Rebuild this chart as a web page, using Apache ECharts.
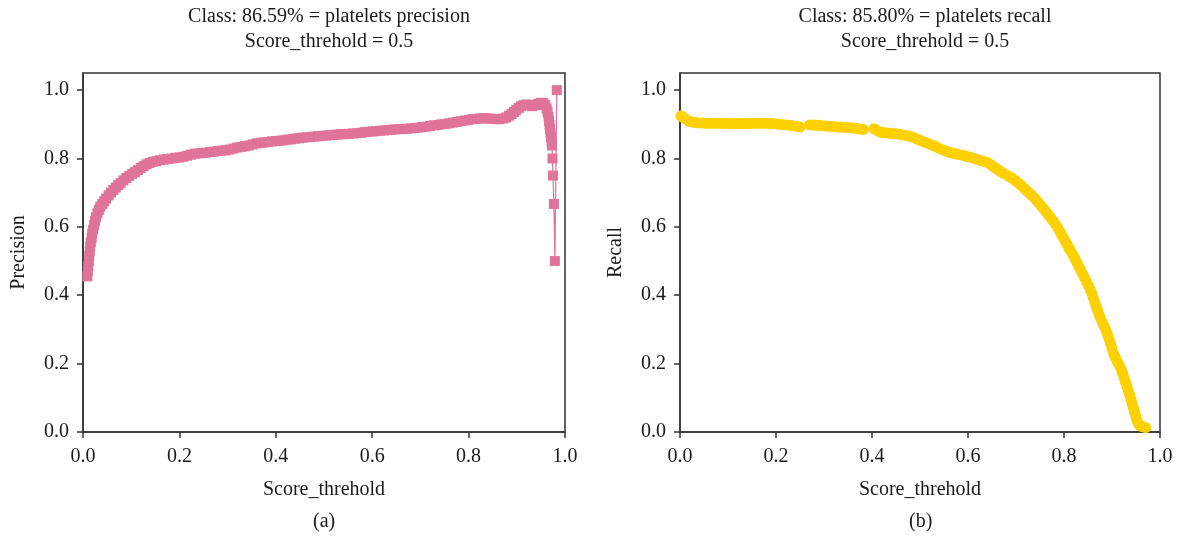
<!DOCTYPE html>
<html>
<head>
<meta charset="utf-8">
<script src="https://cdn.jsdelivr.net/npm/echarts@6/dist/echarts.min.js"></script>
<style>
html,body{margin:0;padding:0;background:#fff;}
#chart{width:1180px;height:537px;}
</style>
</head>
<body>
<div id="chart"></div>
<script>
// ---- Data ----
const precisionX = [0.009,0.010,0.011,0.012,0.013,0.014,0.015,0.016,0.018,0.019,0.021,0.023,0.025,0.027,0.030,0.033,0.036,0.040,0.044,0.048,0.053,0.058,0.063,0.068,0.073,0.078,0.084,0.090,0.096,0.102,0.108,0.114,0.120,0.126,0.132,0.138,0.145,0.152,0.160,0.168,0.176,0.184,0.192,0.200,0.208,0.216,0.224,0.232,0.240,0.248,0.256,0.264,0.272,0.280,0.288,0.296,0.304,0.312,0.320,0.328,0.336,0.344,0.352,0.360,0.368,0.376,0.384,0.392,0.400,0.408,0.416,0.424,0.432,0.440,0.448,0.456,0.464,0.472,0.480,0.488,0.496,0.504,0.512,0.520,0.528,0.536,0.544,0.552,0.560,0.568,0.576,0.584,0.592,0.600,0.608,0.616,0.624,0.632,0.640,0.648,0.656,0.664,0.672,0.680,0.688,0.696,0.704,0.712,0.720,0.728,0.736,0.744,0.752,0.760,0.768,0.776,0.784,0.792,0.800,0.808,0.816,0.824,0.832,0.840,0.848,0.856,0.864,0.872,0.878,0.884,0.889,0.894,0.899,0.904,0.909,0.914,0.920,0.926,0.932,0.938,0.944,0.950,0.955,0.959,0.962,0.964,0.966,0.967,0.968,0.969,0.970,0.971,0.972,0.973,0.974,0.975,0.977,0.979,0.983];
const precisionY = [0.455,0.470,0.485,0.500,0.515,0.530,0.543,0.555,0.568,0.580,0.592,0.605,0.617,0.628,0.640,0.650,0.659,0.667,0.675,0.683,0.692,0.700,0.708,0.715,0.722,0.728,0.736,0.743,0.749,0.755,0.760,0.766,0.772,0.778,0.783,0.787,0.790,0.792,0.795,0.797,0.798,0.800,0.802,0.803,0.805,0.808,0.811,0.814,0.815,0.816,0.817,0.819,0.820,0.822,0.823,0.824,0.826,0.829,0.832,0.834,0.836,0.838,0.841,0.844,0.846,0.847,0.848,0.850,0.851,0.852,0.853,0.855,0.856,0.858,0.859,0.861,0.862,0.863,0.864,0.865,0.866,0.867,0.868,0.869,0.870,0.871,0.871,0.872,0.873,0.874,0.875,0.877,0.878,0.879,0.880,0.881,0.882,0.883,0.884,0.885,0.886,0.886,0.887,0.888,0.889,0.890,0.892,0.893,0.895,0.897,0.898,0.900,0.901,0.903,0.905,0.907,0.909,0.911,0.913,0.915,0.916,0.917,0.918,0.917,0.916,0.915,0.915,0.917,0.920,0.925,0.930,0.936,0.942,0.948,0.953,0.956,0.958,0.956,0.953,0.956,0.960,0.963,0.962,0.956,0.946,0.935,0.922,0.910,0.898,0.886,0.874,0.862,0.850,0.838,0.800,0.750,0.667,0.500,1.000];

const recallX = [0.002,0.006,0.010,0.015,0.020,0.026,0.033,0.040,0.047,0.054,0.061,0.068,0.075,0.082,0.089,0.096,0.103,0.110,0.117,0.124,0.131,0.138,0.145,0.152,0.159,0.166,0.173,0.180,0.187,0.194,0.201,0.208,0.215,0.222,0.229,0.236,0.243,0.250,0.270,0.277,0.284,0.291,0.298,0.305,0.312,0.319,0.326,0.333,0.340,0.347,0.354,0.361,0.368,0.375,0.382,0.404,0.410,0.416,0.422,0.429,0.436,0.443,0.450,0.457,0.464,0.471,0.478,0.485,0.492,0.499,0.506,0.513,0.520,0.527,0.534,0.541,0.548,0.555,0.562,0.569,0.576,0.583,0.590,0.597,0.604,0.611,0.618,0.625,0.632,0.639,0.645,0.651,0.657,0.663,0.669,0.675,0.681,0.687,0.693,0.699,0.705,0.711,0.717,0.722,0.727,0.732,0.737,0.742,0.747,0.752,0.757,0.762,0.767,0.772,0.777,0.782,0.787,0.791,0.795,0.799,0.803,0.807,0.811,0.815,0.819,0.823,0.827,0.831,0.835,0.839,0.843,0.847,0.851,0.855,0.858,0.861,0.864,0.867,0.870,0.873,0.876,0.880,0.884,0.888,0.891,0.894,0.897,0.900,0.903,0.907,0.911,0.915,0.919,0.922,0.925,0.928,0.931,0.934,0.937,0.940,0.942,0.945,0.947,0.950,0.952,0.955,0.959,0.964,0.970];
const recallY = [0.924,0.921,0.917,0.912,0.908,0.906,0.905,0.904,0.904,0.903,0.903,0.903,0.903,0.903,0.903,0.903,0.902,0.902,0.902,0.902,0.902,0.902,0.902,0.903,0.903,0.903,0.903,0.903,0.902,0.902,0.901,0.900,0.899,0.898,0.897,0.896,0.894,0.892,0.898,0.898,0.897,0.897,0.896,0.895,0.894,0.893,0.892,0.892,0.891,0.891,0.890,0.889,0.888,0.886,0.885,0.887,0.882,0.878,0.876,0.875,0.874,0.873,0.872,0.871,0.869,0.867,0.865,0.862,0.858,0.854,0.850,0.846,0.842,0.838,0.834,0.829,0.825,0.821,0.818,0.815,0.813,0.811,0.809,0.806,0.804,0.801,0.798,0.795,0.792,0.789,0.784,0.778,0.772,0.767,0.761,0.756,0.751,0.746,0.741,0.735,0.728,0.721,0.713,0.706,0.700,0.693,0.686,0.678,0.670,0.662,0.654,0.645,0.636,0.627,0.618,0.608,0.597,0.587,0.577,0.567,0.557,0.547,0.537,0.527,0.517,0.506,0.495,0.484,0.473,0.462,0.451,0.439,0.428,0.416,0.405,0.392,0.380,0.368,0.356,0.344,0.333,0.320,0.308,0.296,0.284,0.271,0.257,0.244,0.230,0.218,0.206,0.195,0.184,0.172,0.159,0.146,0.133,0.120,0.107,0.094,0.082,0.069,0.057,0.045,0.033,0.024,0.018,0.015,0.013];

const xTicks = [0,0.2,0.4,0.6,0.8,1.0];
const yTicks = [0,0.2,0.4,0.6,0.8,1.0];
const titles = ['Class: 86.59% = platelets precision\nScore_threhold = 0.5','Class: 85.80% = platelets recall\nScore_threhold = 0.5'];
const yNames = ['Precision','Recall'];
const xName = 'Score_threhold';
const panelTags = ['(a)','(b)'];

// ---- Chart ----
const FONT = '"Liberation Serif", "DejaVu Serif", serif';
const TXT = '#1a1a1a';
const AX = '#333';
const FS = 20;
const grids = [
  {left:83, right:615, top:73, bottom:105},
  {left:680, right:20, top:73, bottom:105}
];
const centers = [324, 920];

function mk(xs, ys){ return xs.map((x,i)=>[x, ys[i]]); }

const chart = echarts.init(document.getElementById('chart'), null, {renderer:'canvas'});
const option = {
  backgroundColor:'#fff',
  animation:false,
  title: titles.map((t,i)=>({
    text:t, left:centers[i], top:-1, textAlign:'center',
    textStyle:{fontFamily:FONT, fontSize:FS, fontWeight:'normal', color:TXT, lineHeight:25}
  })),
  grid: grids.map(g=>Object.assign({show:true, borderColor:AX, borderWidth:1.5, backgroundColor:'transparent'}, g)),
  xAxis: [0,1].map(i=>({
    type:'value', gridIndex:i, min:0, max:1, interval:0.2,
    name:xName, nameLocation:'middle', nameGap:48,
    nameTextStyle:{fontFamily:FONT, fontSize:FS, color:TXT},
    axisLine:{show:true, onZero:false, lineStyle:{color:AX, width:1.5}},
    axisTick:{show:true, inside:false, length:6, lineStyle:{color:AX, width:1.5}, customValues:xTicks},
    axisLabel:{fontFamily:FONT, fontSize:FS, color:TXT, margin:15, customValues:xTicks, formatter:v=>v.toFixed(1)},
    splitLine:{show:false}
  })),
  yAxis: [0,1].map(i=>({
    type:'value', gridIndex:i, min:0, max:1.05,
    name:yNames[i], nameLocation:'middle', nameGap:54,
    nameTextStyle:{fontFamily:FONT, fontSize:FS, color:TXT},
    axisLine:{show:true, onZero:false, lineStyle:{color:AX, width:1.5}},
    axisTick:{show:true, inside:false, length:6, lineStyle:{color:AX, width:1.5}, customValues:yTicks},
    axisLabel:{fontFamily:FONT, fontSize:FS, color:TXT, margin:14, customValues:yTicks, formatter:v=>v.toFixed(1)},
    splitLine:{show:false}
  })),
  graphic: panelTags.map((t,i)=>({
    type:'text', left:centers[i] - 11, top:512,
    style:{text:t, fontFamily:FONT, fontSize:FS, fill:TXT}
  })),
  series: [
    {
      type:'line', xAxisIndex:0, yAxisIndex:0, data:mk(precisionX, precisionY),
      symbol:'rect', symbolSize:10, showAllSymbol:true, clip:false,
      lineStyle:{color:'#E0739A', width:1.2}, itemStyle:{color:'#E0739A'}
    },
    {
      type:'line', xAxisIndex:1, yAxisIndex:1, data:mk(recallX, recallY),
      symbol:'circle', symbolSize:11, showAllSymbol:true, clip:false,
      lineStyle:{color:'#FDD000', width:1.2}, itemStyle:{color:'#FDD000'}
    }
  ]
};
chart.setOption(option);
</script>
</body>
</html>
